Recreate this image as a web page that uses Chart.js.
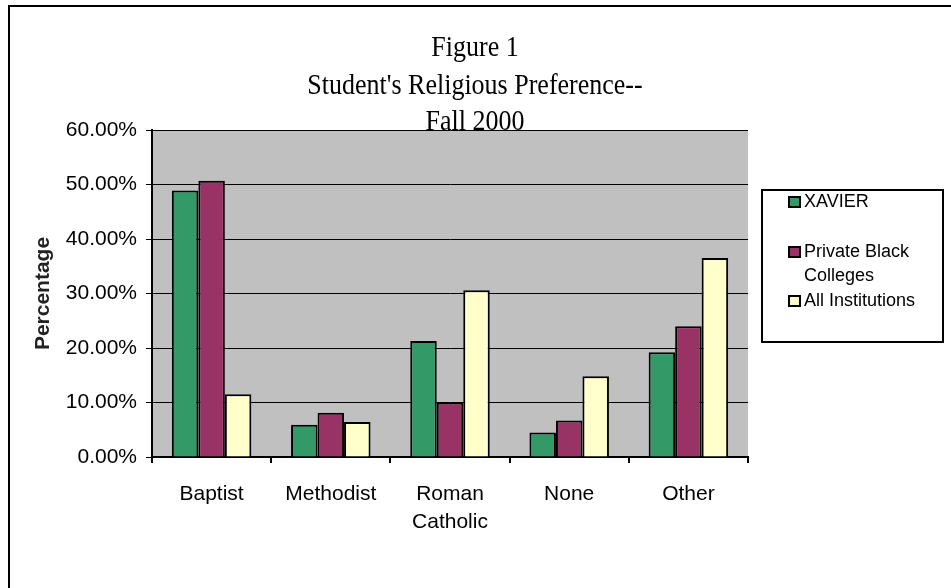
<!DOCTYPE html>
<html><head><meta charset="utf-8">
<script src="https://cdn.jsdelivr.net/npm/chart.js@4.4.1/dist/chart.umd.min.js"></script>
<style>html,body{margin:0;padding:0;background:#fff}#wrap{width:951px;height:588px;position:relative}</style>
</head><body><div id="wrap"><canvas id="c" width="951" height="588"></canvas></div>
<script>
const categories = [['Baptist'], ['Methodist'], ['Roman', 'Catholic'], ['None'], ['Other']];
const xavier = [48.9, 5.9, 21.3, 4.5, 19.2];
const privateBlack = [50.7, 8.1, 10.0, 6.7, 24.0];
const allInstitutions = [11.5, 6.4, 30.6, 14.8, 36.5];
const seriesLabels = ['XAVIER', 'Private Black Colleges', 'All Institutions'];
const legendLines = [['XAVIER'], ['Private Black', 'Colleges'], ['All Institutions']];
const titleLines = ['Figure 1', "Student's Religious Preference--", 'Fall 2000'];
const yAxisTitle = 'Percentage';
const yMin = 0, yMax = 60, yStep = 10;
const colors = ['#339966', '#993366', '#FFFFCC'];

const sans = '"Liberation Sans", Arial, sans-serif';
const serif = '"Liberation Serif", "Times New Roman", serif';

const decor = {
  id: 'decor',
  beforeDraw(chart) {
    const {ctx, chartArea: a} = chart;
    ctx.save();
    ctx.fillStyle = '#fff';
    ctx.fillRect(0, 0, chart.width, chart.height);
    ctx.fillStyle = '#C0C0C0';
    ctx.fillRect(a.left, a.top, a.right - a.left, a.bottom - a.top);
    ctx.restore();
  },
  afterDraw(chart) {
    const ctx = chart.ctx;
    ctx.save();
    // outer frame
    ctx.strokeStyle = '#000';
    ctx.lineWidth = 2;
    ctx.beginPath();
    ctx.moveTo(9, 588); ctx.lineTo(9, 6); ctx.lineTo(951, 6);
    ctx.stroke();
    // title (slightly tall glyphs as in the reference)
    ctx.fillStyle = '#000';
    ctx.font = '26px ' + serif;
    ctx.textAlign = 'center';
    ctx.textBaseline = 'middle';
    const ty = [48, 86, 122];
    titleLines.forEach((t, i) => {
      ctx.save();
      ctx.translate(475, ty[i]);
      ctx.scale(1, 1.15);
      ctx.fillText(t, 0, 0);
      ctx.restore();
    });
    // legend
    ctx.lineWidth = 2;
    ctx.strokeRect(762, 190, 181, 152);
    ctx.font = '18px ' + sans;
    ctx.textAlign = 'left';
    const ly = [202, 252, 301];
    chart.data.datasets.forEach((ds, i) => {
      ctx.fillStyle = ds.backgroundColor;
      ctx.fillRect(789, ly[i] - 5, 11, 10);
      ctx.strokeStyle = '#000';
      ctx.lineWidth = 2;
      ctx.strokeRect(789, ly[i] - 5, 11, 10);
      ctx.fillStyle = '#000';
      legendLines[i].forEach((ln, j) => ctx.fillText(ln, 804, ly[i] + j * 24));
    });
    ctx.restore();
  }
};

new Chart(document.getElementById('c'), {
  type: 'bar',
  data: {
    labels: categories,
    datasets: [
      {label: seriesLabels[0], data: xavier, backgroundColor: colors[0]},
      {label: seriesLabels[1], data: privateBlack, backgroundColor: colors[1]},
      {label: seriesLabels[2], data: allInstitutions, backgroundColor: colors[2]}
    ].map(d => Object.assign(d, {borderColor: '#000', borderWidth: 2, categoryPercentage: 0.667, barPercentage: 1.0}))
  },
  options: {
    responsive: false,
    devicePixelRatio: 1,
    animation: false,
    layout: {padding: {left: 0, top: 130, right: 203, bottom: 0}},
    plugins: {legend: {display: false}, title: {display: false}, tooltip: {enabled: false}},
    scales: {
      x: {
        grid: {display: true, drawOnChartArea: false, color: '#000', lineWidth: 2, tickLength: 6, offset: true},
        border: {display: true, color: '#000', width: 2},
        ticks: {color: '#000', font: {family: sans, size: 21, lineHeight: 1.35}, padding: 17, maxRotation: 0, autoSkip: false},
        afterFit(s) { s.height = 131; }
      },
      y: {
        min: yMin, max: yMax,
        grid: {color: '#000', lineWidth: 1, tickLength: 6},
        border: {display: true, color: '#000', width: 2},
        ticks: {stepSize: yStep, color: '#000', font: {family: sans, size: 21}, padding: 9,
                callback: v => v.toFixed(2) + '%'},
        title: {display: true, text: yAxisTitle, color: '#222', font: {family: sans, size: 21, weight: 'bold'}, padding: {top: 31, bottom: 0}},
        afterFit(s) { s.width = 152; }
      }
    }
  },
  plugins: [decor]
});
</script></body></html>
